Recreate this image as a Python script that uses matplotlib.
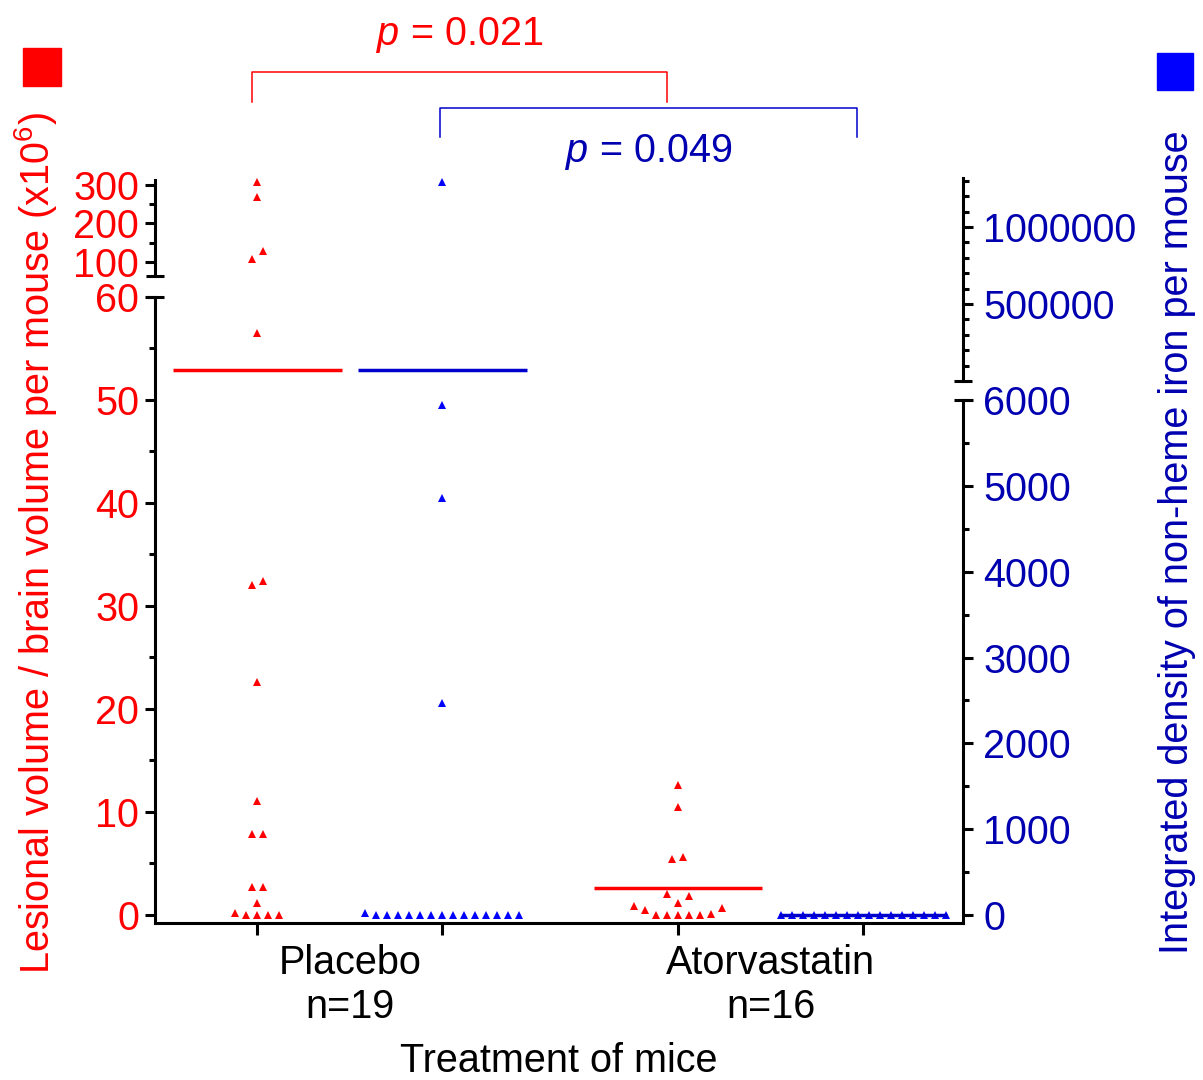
import matplotlib
matplotlib.use("Agg")
import matplotlib.pyplot as plt
from matplotlib.patches import Rectangle
from matplotlib.transforms import blended_transform_factory

plt.rcParams['font.family'] = ['Liberation Sans', 'DejaVu Sans']
plt.rcParams['mathtext.fontset'] = 'custom'
plt.rcParams['mathtext.rm'] = 'Liberation Sans'
plt.rcParams['mathtext.it'] = 'Liberation Sans:italic'

RED = '#ff0000'
BLUE = '#0000ff'
NAVY = '#0000b0'
LINE_BLUE = '#0000cc'
FS = 28.5

# 数据
groups = ['Placebo\nn=19', 'Atorvastatin\nn=16']
lesion_placebo = [0, 0, 0, 0, 0.2, 1.2, 2.7, 2.7, 7.9, 7.9, 11.1, 22.6,
                  32.0, 32.4, 56.5, 108, 129, 268, 308]
lesion_atorva = [0, 0, 0, 0, 0, 0.1, 0.5, 0.7, 0.9, 1.2, 1.8, 2.0,
                 5.4, 5.6, 10.5, 12.6]
iron_placebo = [0, 0, 0, 0, 0, 0, 0, 0, 0, 0, 0, 0, 0, 0,
                25, 2470, 4860, 5940, 1290000]
iron_atorva = [0, 0, 0, 0, 0, 0, 0, 0, 0, 0, 0, 0, 0, 0, 0, 0]
lesion_means = [52.9, 2.6]
iron_means = [70000, 0]
p_lesion = '0.021'
p_iron = '0.049'

lesion_break = 60
iron_break = 6000

W, H = 1203, 1080
fig = plt.figure(figsize=(W / 100, H / 100), dpi=100)


def px_axes(x0, y0, x1, y1):
    ax = fig.add_axes([x0 / W, 1 - y1 / H, (x1 - x0) / W, (y1 - y0) / H])
    ax.set_facecolor('none')
    for s in ax.spines.values():
        s.set_visible(False)
        s.set_linewidth(2.2)
    return ax


ax_lo = px_axes(155, 297, 963, 923)
ax_hi = px_axes(155, 180, 963, 276)
ax_ilo = px_axes(155, 400, 963, 923)
ax_ihi = px_axes(155, 178, 963, 381)

xlim = (-0.4637, 1.4578)
for ax in (ax_lo, ax_hi, ax_ilo, ax_ihi):
    ax.set_xlim(*xlim)
ax_lo.set_ylim(-0.777, 60)
ax_hi.set_ylim(63.6, 313)
ax_ilo.set_ylim(-93.2, 6000)
ax_ihi.set_ylim(0, 1318000)

centers = [0, 1]
off = 0.22
red_x = [c - off for c in centers]
blue_x = [c + off for c in centers]


def swarm(ax, xc, vals, spacing_px=11, row_px=9.5):
    vals = sorted(vals)
    ypx = lambda v: ax.transData.transform((0, v))[1]
    px_per_x = ax.transData.transform((1, 0))[0] - ax.transData.transform((0, 0))[0]
    rows = []
    for v in vals:
        if rows and ypx(v) - ypx(rows[-1][0]) < row_px:
            rows[-1].append(v)
        else:
            rows.append([v])
    xs, ys = [], []
    for row in rows:
        n = len(row)
        for i, v in enumerate(row):
            if n % 2:
                slot = (i + 1) // 2 * (1 if i % 2 else -1)
            else:
                slot = (i // 2 + 0.5) * (-1 if i % 2 == 0 else 1)
            xs.append(xc + slot * spacing_px / px_per_x)
            ys.append(v)
    return xs, ys


def draw_group(ax_low, ax_high, brk, xc, vals, mean, color, mean_color):
    low = [v for v in vals if v <= brk]
    high = [v for v in vals if v > brk]
    for ax, part in ((ax_low, low), (ax_high, high)):
        if part:
            xs, ys = swarm(ax, xc, part)
            ax.plot(xs, ys, ls='none', marker='^', ms=5.8, mew=0,
                    color=color, clip_on=False, zorder=3)
    ax = ax_high if mean > brk else ax_low
    ax.plot([xc - 0.2, xc + 0.2], [mean, mean], color=mean_color, lw=2.5,
            solid_capstyle='butt', zorder=4, clip_on=False)


draw_group(ax_lo, ax_hi, lesion_break, red_x[0], lesion_placebo, lesion_means[0], RED, RED)
draw_group(ax_lo, ax_hi, lesion_break, red_x[1], lesion_atorva, lesion_means[1], RED, RED)
draw_group(ax_ilo, ax_ihi, iron_break, blue_x[0], iron_placebo, iron_means[0], BLUE, LINE_BLUE)
draw_group(ax_ilo, ax_ihi, iron_break, blue_x[1], iron_atorva, iron_means[1], BLUE, LINE_BLUE)

# 左轴
ax_lo.spines['left'].set_visible(True)
ax_lo.spines['bottom'].set_visible(True)
ax_hi.spines['left'].set_visible(True)
ax_lo.set_yticks(range(0, 61, 10))
ax_lo.set_yticks(range(5, 60, 10), minor=True)
ax_hi.set_yticks([100, 200, 300])
ax_hi.set_yticks([150, 250], minor=True)
for ax in (ax_lo, ax_hi):
    ax.tick_params(axis='y', which='major', length=7, width=2.2, pad=4.5,
                   labelsize=FS, labelcolor=RED, color='k')
    ax.tick_params(axis='y', which='minor', length=4.5, width=2.2)

# 右轴
for ax in (ax_ilo, ax_ihi):
    ax.spines['right'].set_visible(True)
    ax.yaxis.tick_right()
    ax.tick_params(axis='y', which='major', length=7, width=2.2, pad=7.5,
                   labelsize=FS, labelcolor=NAVY, color='k')
    ax.tick_params(axis='y', which='minor', length=4.5, width=2.2)
ax_ilo.set_yticks(range(0, 6001, 1000))
ax_ilo.set_yticks(range(500, 6000, 1000), minor=True)
ax_ihi.set_yticks([500000, 1000000])
ax_ihi.set_yticklabels(['500000', '1000000'])
ax_ihi.set_yticks(range(100000, 1300001, 100000), minor=True)

# 断轴端点
for ax, x, y in ((ax_lo, 0, 1), (ax_hi, 0, 0), (ax_ilo, 1, 1), (ax_ihi, 1, 0)):
    ax.plot([x], [y], marker='_', ms=13, mew=2.2, color='k',
            transform=ax.transAxes, clip_on=False, zorder=5)

# x 轴
ax_lo.set_xticks(red_x + blue_x)
ax_lo.set_xticklabels([])
ax_lo.set_xticks(centers, minor=True)
ax_lo.set_xticklabels(groups, minor=True)
ax_lo.tick_params(axis='x', which='major', length=8.5, width=2.2)
ax_lo.tick_params(axis='x', which='minor', length=0, pad=15, labelsize=FS)
for t in ax_lo.get_xticklabels(minor=True):
    t.set_linespacing(1.2)
for ax in (ax_hi, ax_ilo, ax_ihi):
    ax.set_xticks([])

fig.text(559 / W, 0.0, 'Treatment of mice', ha='center', va='bottom', fontsize=FS)
fig.text(36 / W, 1 - 543 / H, 'Lesional volume / brain volume per mouse (x10$^6$)',
         rotation=90, ha='center', va='center', fontsize=FS, color=RED)
fig.text(1177 / W, 1 - 542 / H, 'Integrated density of non-heme iron per mouse',
         rotation=90, ha='center', va='center', fontsize=FS, color=NAVY)

# p 值括号
tr = blended_transform_factory(ax_lo.transData, fig.transFigure)
bx = [red_x[0] - 0.013, red_x[1] - 0.026]
ax_lo.plot([bx[0], bx[0], bx[1], bx[1]], [1 - 102 / H, 1 - 72 / H, 1 - 72 / H, 1 - 102 / H],
           color=RED, lw=1.1, transform=tr, clip_on=False)
ax_lo.text(sum(bx) / 2, 1 - 45 / H, '$p$ = ' + p_lesion, transform=tr,
           ha='center', va='baseline', fontsize=FS, color=RED)
bx = [blue_x[0] - 0.005, blue_x[1] - 0.014]
ax_lo.plot([bx[0], bx[0], bx[1], bx[1]], [1 - 137 / H, 1 - 108 / H, 1 - 108 / H, 1 - 137 / H],
           color=LINE_BLUE, lw=1.1, transform=tr, clip_on=False)
ax_lo.text(sum(bx) / 2, 1 - 162 / H, '$p$ = ' + p_iron, transform=tr,
           ha='center', va='baseline', fontsize=FS, color=NAVY)

# 图例方块
fig.add_artist(Rectangle((23 / W, 1 - 86 / H), 38 / W, 38 / H, transform=fig.transFigure, color=RED))
fig.add_artist(Rectangle((1157 / W, 1 - 90 / H), 36 / W, 37 / H, transform=fig.transFigure, color=BLUE))

fig.savefig('out.png', dpi=100)
